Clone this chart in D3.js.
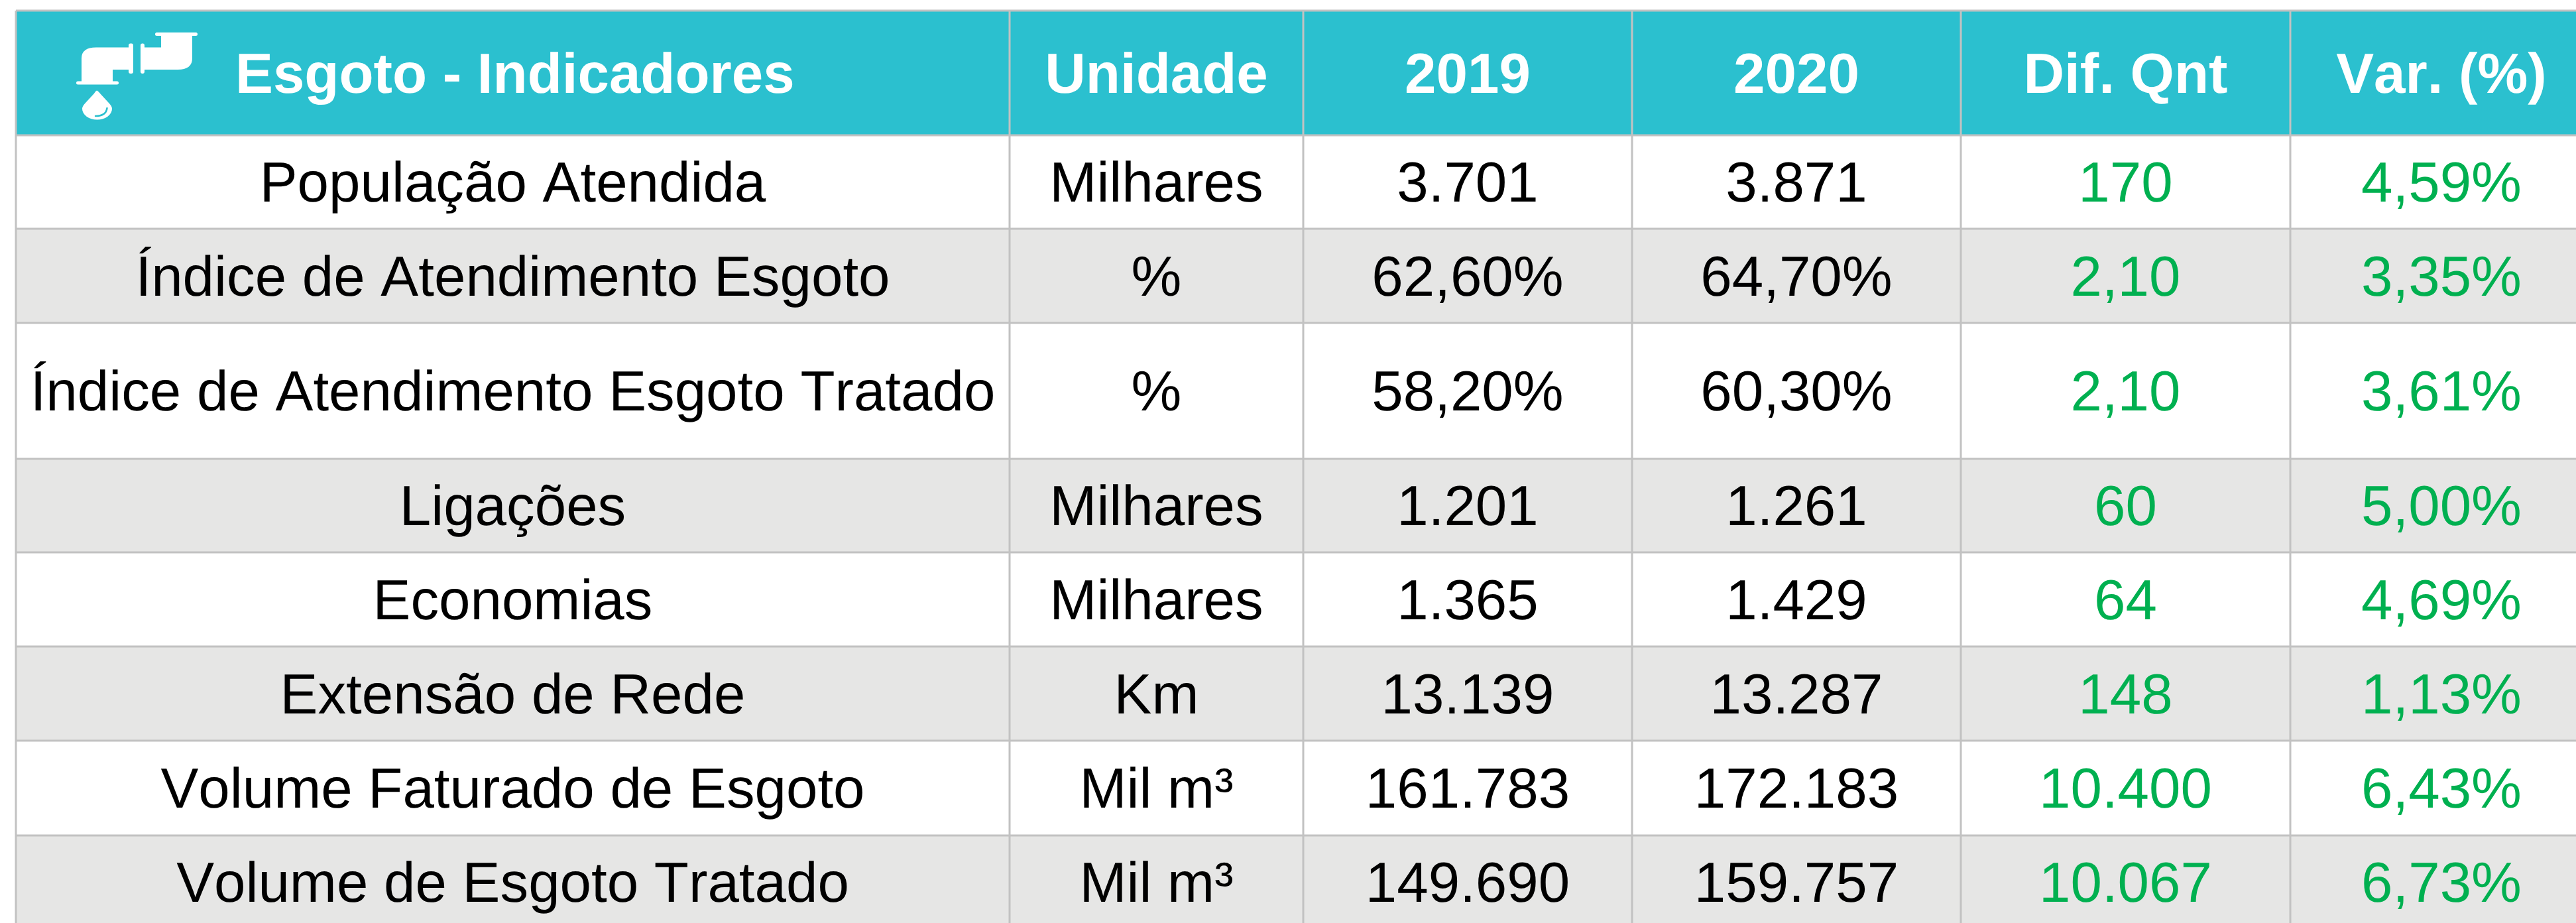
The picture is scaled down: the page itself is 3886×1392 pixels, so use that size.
<!DOCTYPE html>
<html>
<head>
<meta charset="utf-8">
<script src="https://d3js.org/d3.v7.min.js"></script>
<style>
    html, body { margin: 0; padding: 0; background: #fff; }
    text { font-family: "Liberation Sans", Arial, sans-serif; font-kerning: none; text-rendering: geometricPrecision; }
</style>
</head>
<body>
<div id="chart"></div>
<script>
const headers = ["Esgoto - Indicadores", "Unidade", "2019", "2020", "Dif. Qnt", "Var. (%)"];
const indicators = [
    "População Atendida", "Índice de Atendimento Esgoto", "Índice de Atendimento Esgoto Tratado",
    "Ligações", "Economias", "Extensão de Rede", "Volume Faturado de Esgoto", "Volume de Esgoto Tratado"
];
const units = ["Milhares", "%", "%", "Milhares", "Milhares", "Km", "Mil m³", "Mil m³"];
const values2019 = ["3.701", "62,60%", "58,20%", "1.201", "1.365", "13.139", "161.783", "149.690"];
const values2020 = ["3.871", "64,70%", "60,30%", "1.261", "1.429", "13.287", "172.183", "159.757"];
const difQnt = ["170", "2,10", "2,10", "60", "64", "148", "10.400", "10.067"];
const varPct = ["4,59%", "3,35%", "3,61%", "5,00%", "4,69%", "1,13%", "6,43%", "6,73%"];

const width = 3886, height = 1392;
const colEdges = [24, 1523, 1966, 2462, 2958, 3455, 3911];
const rowEdges = [16, 204, 345, 487, 692, 833, 975, 1117, 1260, 1400];
const teal = "#2bc0cf", grey = "#e6e6e5", lineColor = "#c2c2c2", green = "#00b050";

const svg = d3.select("#chart").append("svg")
    .attr("width", width)
    .attr("height", height)
    .style("display", "block");

// Row and column position scales
const rowY = d3.scaleOrdinal().domain(d3.range(rowEdges.length)).range(rowEdges);
const colX = d3.scaleOrdinal().domain(d3.range(colEdges.length)).range(colEdges);
const rowMid = i => (rowY(i) + rowY(i + 1)) / 2;
const colMid = i => (colX(i) + colX(i + 1)) / 2;

// Backgrounds
svg.append("rect")
    .attr("x", colX(0)).attr("y", rowY(0))
    .attr("width", width - colX(0)).attr("height", rowY(1) - rowY(0))
    .attr("fill", teal);

svg.selectAll(".band")
    .data(indicators)
    .enter().append("rect")
    .attr("class", "band")
    .attr("x", colX(0))
    .attr("y", (d, i) => rowY(i + 1))
    .attr("width", width - colX(0))
    .attr("height", (d, i) => rowY(i + 2) - rowY(i + 1))
    .attr("fill", (d, i) => i % 2 === 1 || i === 3 ? grey : "#fff");

// Grid lines
svg.selectAll(".hline")
    .data(rowEdges.slice(0, -1))
    .enter().append("line")
    .attr("x1", colX(0)).attr("x2", width)
    .attr("y1", d => d).attr("y2", d => d)
    .attr("stroke", lineColor).attr("stroke-width", 3);

svg.selectAll(".vline")
    .data(colEdges.slice(0, -1))
    .enter().append("line")
    .attr("x1", d => d).attr("x2", d => d)
    .attr("y1", rowY(0)).attr("y2", height)
    .attr("stroke", lineColor).attr("stroke-width", 3);

// Header
svg.selectAll(".head")
    .data(headers)
    .enter().append("text")
    .attr("class", "head")
    .attr("x", (d, i) => i === 0 ? 355 : colMid(i))
    .attr("y", rowMid(0))
    .attr("dy", "0.35em")
    .attr("text-anchor", (d, i) => i === 0 ? "start" : "middle")
    .attr("font-size", 85.3)
    .attr("font-weight", "bold")
    .attr("fill", "#fff")
    .text(d => d);

// Body cells
const columns = [indicators, units, values2019, values2020, difQnt, varPct];
columns.forEach((col, c) => {
    svg.selectAll(".cell" + c)
        .data(col)
        .enter().append("text")
        .attr("x", colMid(c))
        .attr("y", (d, i) => rowMid(i + 1))
        .attr("dy", "0.35em")
        .attr("text-anchor", "middle")
        .attr("font-size", 85.3)
        .attr("fill", c >= 4 ? green : "#000")
        .text(d => d);
});

// Pipe icon
const icon = svg.append("g").attr("fill", "#fff");
icon.append("path").attr("d", "M123,124V88Q123,71.5 145,71.5H195V105H170V124Z");
icon.append("path").attr("d", "M217,71.5H243V52H290V88Q290,105 268,105H217Z");
icon.append("rect").attr("x", 115).attr("y", 122.5).attr("width", 64).attr("height", 5).attr("rx", 2.5);
icon.append("rect").attr("x", 234).attr("y", 49).attr("width", 64).attr("height", 5).attr("rx", 2.5);
icon.append("rect").attr("x", 194).attr("y", 65.5).attr("width", 7).attr("height", 45.5).attr("rx", 3);
icon.append("rect").attr("x", 212).attr("y", 65.5).attr("width", 6).attr("height", 45.5).attr("rx", 3);
icon.append("path").attr("d", "M146,136.5Q148,137 151,141L163,154Q169,160 169,164A22.5,16.5 0 0 1 124,164Q124,160 130,154L142,141Q144,137 146,136.5Z");
icon.append("path")
    .attr("d", "M161.5,163Q160,175 144,175")
    .attr("fill", "none").attr("stroke", teal).attr("stroke-width", 2.5).attr("stroke-linecap", "round");
</script>
</body>
</html>
